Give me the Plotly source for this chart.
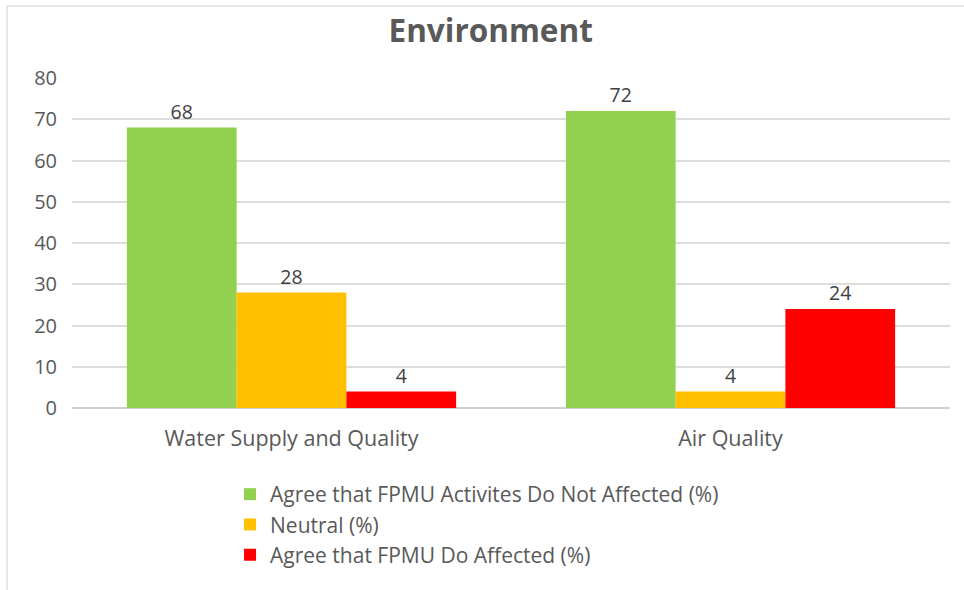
import plotly.graph_objects as go

categories = ["Water Supply and Quality", "Air Quality"]
series_names = [
    "Agree that FPMU Activites Do Not Affected (%)",
    "Neutral (%)",
    "Agree that FPMU Do Affected (%)",
]
not_affected = [68, 72]
neutral = [28, 4]
affected = [4, 24]
series_values = [not_affected, neutral, affected]
series_colors = ["#92D050", "#FFC000", "#FF0000"]
y_ticks = [0, 10, 20, 30, 40, 50, 60, 70, 80]

FONT = "'Open Sans', sans-serif"
TEXT = "#595959"

fig = go.Figure()
for name, vals, color in zip(series_names, series_values, series_colors):
    fig.add_trace(go.Bar(
        x=categories,
        y=vals,
        name=name,
        marker=dict(color=color, line=dict(width=0)),
        text=[str(v) for v in vals],
        textposition="outside",
        textfont=dict(family=FONT, size=19.5, color="#404040"),
        cliponaxis=False,
    ))

fig.update_layout(
    width=964,
    height=590,
    paper_bgcolor="white",
    plot_bgcolor="white",
    barmode="group",
    bargap=0.25,
    bargroupgap=0,
    margin=dict(l=72, r=14, t=78, b=182),
    title=dict(
        text="<b>Environment</b>",
        x=0.509, xanchor="center",
        y=0.948, yanchor="middle",
        font=dict(family=FONT, size=31.5, color=TEXT),
    ),
    font=dict(family=FONT, color=TEXT),
    legend=dict(
        orientation="v",
        x=0.180, xanchor="left",
        y=-0.2, yanchor="top",
        font=dict(family=FONT, size=21, color=TEXT),
        tracegroupgap=0,
        itemwidth=30,
        bgcolor="rgba(0,0,0,0)",
    ),
    xaxis=dict(
        showgrid=False,
        showline=False,
        ticks="",
        ticklabelstandoff=15,
        tickfont=dict(family=FONT, size=21.5, color=TEXT),
    ),
    yaxis=dict(
        range=[0, 80],
        tickvals=y_ticks,
        showgrid=True,
        gridcolor="#DDDDDD",
        gridwidth=1.5,
        zeroline=True,
        zerolinecolor="#D0D0D0",
        zerolinewidth=1.5,
        showline=False,
        ticks="",
        ticklabelstandoff=14,
        tickfont=dict(family=FONT, size=20, color=TEXT),
    ),
    shapes=[
        dict(type="line", xref="paper", yref="paper",
             x0=-65 / 878, x1=1.1, y0=(590 - 6 - 182) / 330, y1=(590 - 6 - 182) / 330,
             line=dict(color="#E6E6E6", width=2)),
        dict(type="line", xref="paper", yref="paper",
             x0=-65 / 878, x1=-65 / 878, y0=(590 - 6 - 182) / 330, y1=-0.6,
             line=dict(color="#E6E6E6", width=2)),
    ],
)

fig.write_html("out.html")
